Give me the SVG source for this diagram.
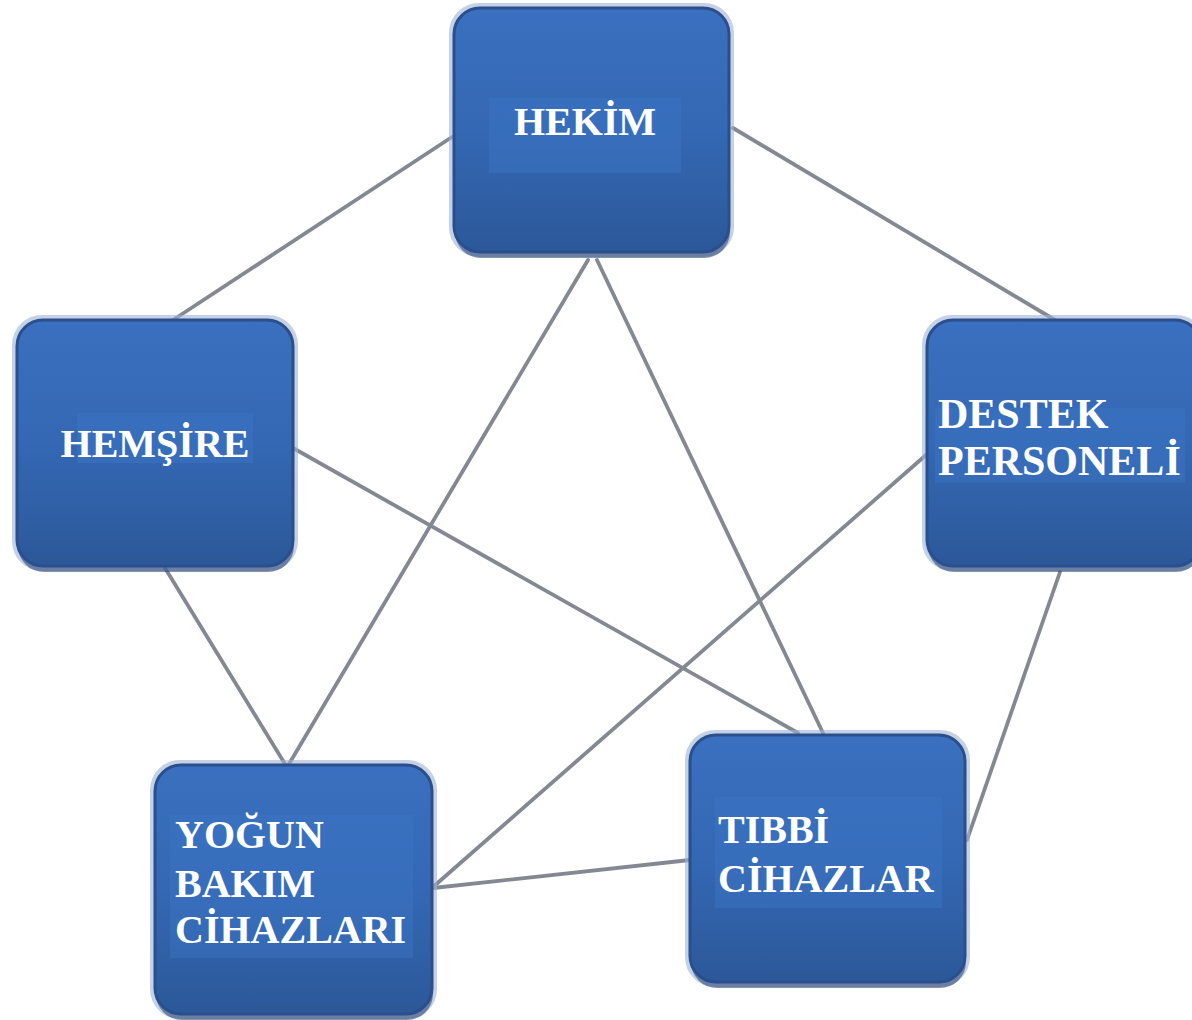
<svg xmlns="http://www.w3.org/2000/svg" width="1192" height="1020" viewBox="0 0 1192 1020">
<defs>
<linearGradient id="g" x1="0" y1="0" x2="0" y2="1">
<stop offset="0" stop-color="#3a70bf"/>
<stop offset="0.5" stop-color="#3468b4"/>
<stop offset="1" stop-color="#2c5899"/>
</linearGradient>
<style>
.edge{stroke:#838893;stroke-width:3.8;fill:none;stroke-linecap:round}
.shadow{fill:#1f3d70;opacity:0.55}
.halo{fill:none;stroke:#9fb3d3;stroke-width:4;opacity:0.6}
.box{fill:url(#g);stroke:#2a4f8c;stroke-width:3}
.tbox{fill:#3b76c5;opacity:0.45}
.lbl{font-family:"Liberation Serif","Times New Roman",serif;font-weight:bold;font-size:40px;fill:#ffffff}
.big{font-size:42px}
</style>
</defs>
<rect width="1192" height="1020" fill="#ffffff"/>
<g id="connectors">
<line class="edge" x1="452" y1="137" x2="170" y2="322"/>
<line class="edge" x1="733" y1="128" x2="1055" y2="320"/>
<line class="edge" x1="588" y1="260" x2="289" y2="764"/>
<line class="edge" x1="597" y1="260" x2="823" y2="733"/>
<line class="edge" x1="293" y1="448" x2="798" y2="733"/>
<line class="edge" x1="165" y1="568" x2="285" y2="764"/>
<line class="edge" x1="926" y1="455" x2="433" y2="887"/>
<line class="edge" x1="1060" y1="572" x2="967" y2="840"/>
<line class="edge" x1="433" y1="888" x2="690" y2="860"/>
</g>
<g id="hekim">
<rect class="halo" x="451" y="5" width="281" height="250" rx="28"/>
<rect class="shadow" x="455" y="14" width="275" height="244" rx="26"/>
<rect class="box" x="454" y="8" width="275" height="244" rx="26"/>
<rect class="tbox" x="489" y="98" width="192" height="75"/>
<text class="lbl" x="585" y="135" text-anchor="middle">HEKİM</text>
</g>
<g id="hemsire">
<rect class="halo" x="14" y="317" width="282" height="252" rx="28"/>
<rect class="shadow" x="18" y="326" width="276" height="246" rx="26"/>
<rect class="box" x="17" y="320" width="276" height="246" rx="26"/>
<rect class="tbox" x="77" y="413" width="176" height="50"/>
<text class="lbl" x="155" y="457" text-anchor="middle">HEMŞİRE</text>
</g>
<g id="destek">
<rect class="halo" x="924" y="317" width="280" height="252" rx="28"/>
<rect class="shadow" x="928" y="326" width="274" height="246" rx="26"/>
<rect class="box" x="927" y="320" width="274" height="246" rx="26"/>
<rect class="tbox" x="935" y="408" width="250" height="75"/>
<text class="lbl big" x="938" y="428">DESTEK</text>
<text class="lbl big" x="938" y="475">PERSONELİ</text>
</g>
<g id="yogun">
<rect class="halo" x="152" y="762" width="283" height="255" rx="28"/>
<rect class="shadow" x="156" y="771" width="277" height="249" rx="26"/>
<rect class="box" x="155" y="765" width="277" height="249" rx="26"/>
<rect class="tbox" x="170" y="815" width="243" height="143"/>
<text class="lbl" x="175" y="848">YOĞUN</text>
<text class="lbl" x="175" y="897">BAKIM</text>
<text class="lbl" x="175" y="943">CİHAZLARI</text>
</g>
<g id="tibbi">
<rect class="halo" x="687" y="732" width="281" height="253" rx="28"/>
<rect class="shadow" x="691" y="741" width="275" height="247" rx="26"/>
<rect class="box" x="690" y="735" width="275" height="247" rx="26"/>
<rect class="tbox" x="715" y="797" width="227" height="111"/>
<text class="lbl" x="718" y="843">TIBBİ</text>
<text class="lbl" x="718" y="892">CİHAZLAR</text>
</g>
</svg>
